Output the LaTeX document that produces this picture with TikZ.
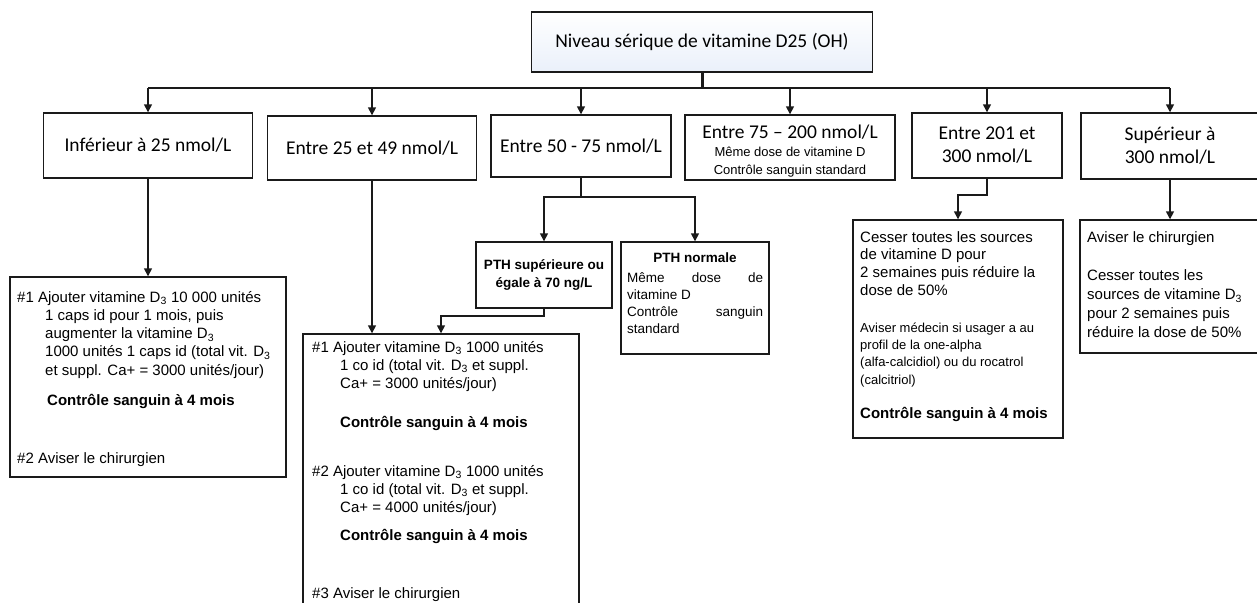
\documentclass[tikz,border=0pt]{standalone}
\usepackage{fontspec}
\setmainfont{Liberation Sans}
\newfontfamily\calib{Carlito}
\usetikzlibrary{arrows.meta}
\definecolor{ln}{HTML}{1A1A1A}
\definecolor{topfill}{HTML}{EAF0FA}
\begin{document}
\begin{tikzpicture}[x=1pt,y=-1pt,
  box/.style={draw=ln,line width=1.4pt,fill=white,inner sep=0pt},
  conn/.style={draw=ln,line width=1.5pt},
  arr/.style={conn,-{Triangle[length=8pt,width=8pt]}},
  lab/.style={font=\calib\fontsize{19.5}{23}\selectfont,align=center},
  txt/.style={font=\fontsize{15}{18.2}\selectfont,align=left,inner sep=0pt,anchor=north west},
  small/.style={font=\fontsize{13}{17.3}\selectfont,align=left,inner sep=0pt,anchor=north west},
  sub/.style={font=\fontsize{13}{16}\selectfont,inner sep=0pt}
]
\useasboundingbox (0,0) rectangle (1257,602);

% top box
\node[box,lab,minimum width=341pt,minimum height=60pt,top color=white,bottom color=topfill] (top) at (702,42) {Niveau sérique de vitamine D25 (OH)};

% first row
\node[box,lab,minimum width=209pt,minimum height=65pt] (b1) at (148,145.5) {Inférieur à 25 nmol/L};
\node[box,lab,minimum width=209pt,minimum height=64pt] (b2) at (372,148) {Entre 25 et 49 nmol/L};
\node[box,lab,minimum width=180pt,minimum height=62pt] (b3) at (581,146) {Entre 50 - 75 nmol/L};
\node[box,minimum width=210pt,minimum height=65pt] (b4) at (790,147.5) {};
\node[lab,inner sep=0pt] (b4t) at (790,132) {Entre 75 – 200 nmol/L};
\node[sub] (b4s1) at (790,152) {Même dose de vitamine D};
\node[sub] (b4s2) at (790,171) {Contrôle sanguin standard};
\node[box,lab,minimum width=150pt,minimum height=65pt] (b5) at (987,145.5) {Entre 201 et\\300 nmol/L};
\node[box,lab,minimum width=178pt,minimum height=66pt] (b6) at (1170,146) {Supérieur à\\300 nmol/L};

% second level boxes
\node[box,minimum width=276pt,minimum height=200pt] (d1) at (148,377) {};
\node[box,minimum width=276pt,minimum height=291pt] (d2) at (441,479.5) {};
\node[box,minimum width=136pt,minimum height=66pt,font=\bfseries\fontsize{13.5}{18}\selectfont,align=center] (pth1) at (544,275) {PTH supérieure ou\\égale à 70 ng/L};
\node[box,minimum width=148pt,minimum height=112pt] (pth2) at (695,298) {};
\node[box,minimum width=210pt,minimum height=218pt] (d5) at (958,329) {};
\node[box,minimum width=180pt,minimum height=133pt] (d6) at (1170,286.5) {};

% texts
\node[txt] (d1t) at (17,291) {\#1 Ajouter vitamine D\textsubscript{3} 10 000 unités\\
\hspace*{28pt}1 caps id pour 1 mois, puis\\
\hspace*{28pt}augmenter la vitamine D\textsubscript{3}\\
\hspace*{28pt}1000 unités 1 caps id (total vit. D\textsubscript{3}\\
\hspace*{28pt}et suppl. Ca+ = 3000 unités/jour)\\[12pt]
\hspace*{30pt}\textbf{Contrôle sanguin à 4 mois}\\[40pt]
\#2 Aviser le chirurgien};

\node[txt] (d2t) at (312,341) {\#1 Ajouter vitamine D\textsubscript{3} 1000 unités\\
\hspace*{28pt}1 co id (total vit. D\textsubscript{3} et suppl.\\
\hspace*{28pt}Ca+ = 3000 unités/jour)\\[21pt]
\hspace*{28pt}\textbf{Contrôle sanguin à 4 mois}\\[30pt]
\#2 Ajouter vitamine D\textsubscript{3} 1000 unités\\
\hspace*{28pt}1 co id (total vit. D\textsubscript{3} et suppl.\\
\hspace*{28pt}Ca+ = 4000 unités/jour)\\[10pt]
\hspace*{28pt}\textbf{Contrôle sanguin à 4 mois}\\[40pt]
\#3 Aviser le chirurgien};

\node[font=\bfseries\fontsize{13.5}{16}\selectfont,inner sep=0pt] (pth2t) at (695,258) {PTH normale};
\node[small,font=\fontsize{13.5}{17}\selectfont] (pth2b) at (627,272) {\makebox[136pt][l]{Même\hfill dose\hfill de}\\
vitamine D\\
\makebox[136pt][l]{Contrôle\hfill sanguin}\\
standard};

\node[txt,font=\fontsize{15}{17.8}\selectfont] (d5a) at (860,231) {Cesser toutes les sources\\
de vitamine D pour\\
2 semaines puis réduire la\\
dose de 50\%};
\node[small] (d5b) at (860,322.5) {Aviser médecin si usager a au\\
profil de la one-alpha\\
(alfa-calcidiol) ou du rocatrol\\
(calcitriol)};
\node[txt,font=\bfseries\fontsize{15}{18}\selectfont] (d5c) at (860,407) {Contrôle sanguin à 4 mois};

\node[txt,font=\fontsize{15}{18.8}\selectfont] (d6t) at (1087,231) {Aviser le chirurgien\\[20pt]
Cesser toutes les\\
sources de vitamine D\textsubscript{3}\\
pour 2 semaines puis\\
réduire la dose de 50\%};

% connectors
\coordinate (busL) at (148,88);
\coordinate (busR) at (1170,88);
\draw[conn,line width=3pt] (top.south) -- (top.south |- busL);
\draw[conn,line width=2pt] (busL) -- (busR);
\foreach \n in {b1,b2,b3,b4,b5,b6} \draw[arr] (\n.north |- busL) -- (\n.north);

\draw[arr] (b1.south) -- (d1.north);
\draw[arr] (b2.south) -- (b2.south |- d2.north);

\coordinate (j3) at (581,197);
\draw[arr] (b3.south) -- (j3) -| (pth1.north);
\draw[arr] (j3) -| (pth2.north);

\coordinate (j4) at (544,316);
\draw[arr] (pth1.south) -- (j4) -| (d2.north);

\coordinate (j5) at (987,195);
\draw[arr] (b5.south) -- (j5) -| (d5.north);

\draw[arr] (b6.south) -- (d6.north);
\end{tikzpicture}
\end{document}
